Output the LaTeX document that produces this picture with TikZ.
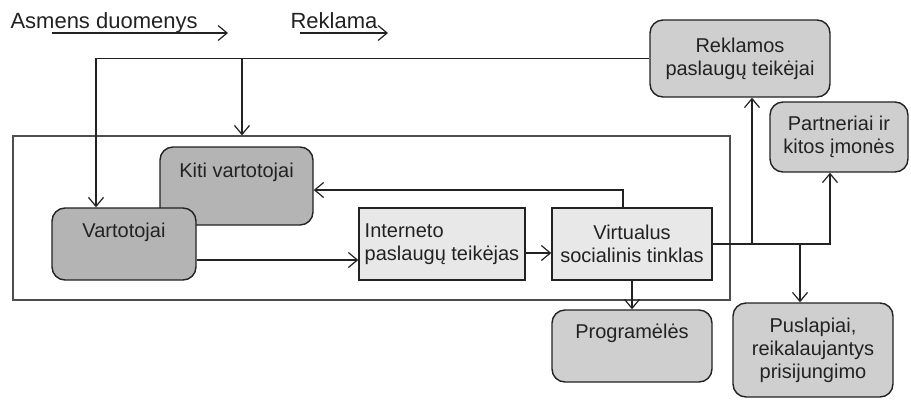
\documentclass[tikz,border=0pt]{standalone}
\usepackage{fontspec}
\setmainfont{Liberation Sans}
\usetikzlibrary{positioning,arrows.meta}

\definecolor{ink}{HTML}{222222}
\definecolor{dkgray}{HTML}{B4B4B4}
\definecolor{ltgray}{HTML}{CFCFCF}
\definecolor{pale}{HTML}{E8E8E8}

\begin{document}
\begin{tikzpicture}[
	x=1pt, y=-1pt
	,every node/.append style={font=\fontsize{20}{23}\selectfont, text=ink}
	,>={Straight Barb[length=9pt,width=15pt]}
	,c/.style={line width=1.2pt, draw=ink}
	,tag/.style={anchor=base west, font=\fontsize{22}{26}\selectfont}
	,area/.style={draw=ink!80, line width=1.3pt, minimum width=717pt, minimum height=164pt}
	,dk/.style={draw=ink, line width=1.4pt, rounded corners=13pt, fill=dkgray, align=center}
	,lt/.style={draw=ink, line width=1.4pt, rounded corners=13pt, fill=ltgray, align=center}
	,sq/.style={draw=ink, line width=1.4pt, fill=pale, minimum width=#1, minimum height=72pt}
	,toptext/.style={text height=14pt, text depth=#1}
]
	% outer frame
	\node [area] (sns) at (371.5,218) {};

	% top labels
	\node [tag] (asm) at (7,28) {Asmens duomenys};
	\node [tag] (rkl) at (287,28) {Reklama};
	\coordinate (asmL) at (52,33);
	\coordinate (asmR) at (228,33);
	\coordinate (rklL) at (300,33);
	\coordinate (rklR) at (388,33);

	% boxes
	\node [lt, minimum width=180pt, minimum height=77pt] (rek) at (740,58.5) {Reklamos\\paslaugų teikėjai};
	\node [lt, minimum width=138pt, minimum height=70pt] (par) at (839,137) {Partneriai ir\\kitos įmonės};
	\node [dk, toptext=32pt, minimum width=153pt, minimum height=78pt] (kiti) at (236.5,186) {Kiti vartotojai};
	\node [dk, toptext=28pt, minimum width=144pt, minimum height=72pt] (vart) at (124,244) {Vartotojai};
	\node [sq=166pt, align=left] (int) at (442,244) {Interneto\\paslaugų teikėjas};
	\node [sq=160pt, align=center] (virt) at (632,244) {Virtualus\\socialinis tinklas};
	\node [lt, toptext=30pt, minimum width=160pt, minimum height=72pt] (prog) at (632,346) {Programėlės};
	\node [lt, minimum width=160pt, minimum height=94pt] (pus) at (813,350) {Puslapiai,\\reikalaujantys\\prisijungimo};

	\coordinate (td) at (242,58.5);
	\coordinate (bu) at (752,0);
	\coordinate (bd) at (800,0);

	% connectors
	\draw [c, ->] (asmL) -- (asmR);
	\draw [c, ->] (rklL) -- (rklR);
	\draw [c, ->] (rek.west) -| ([xshift=-28pt]vart.north);
	\draw [c, ->] (td) -- (td |- sns.north);
	\draw [c, ->] ([yshift=-16pt]vart.east) -- ([yshift=-16pt]vart.east -| int.west);
	\draw [c, ->] ([yshift=-9pt]int.east) -- ([yshift=-9pt]int.east -| virt.west);
	\draw [c, ->] ([xshift=-9pt]virt.north) |- ([yshift=-4pt]kiti.east);
	\draw [c, ->] (virt.south) -- (prog.north);
	\draw [c, ->] (virt.east) -| ([xshift=-9pt]par.south);
	\draw [c, ->] (virt.east -| bu) -- (bu |- rek.south);
	\draw [c, ->] (virt.east -| bd) -- (bd |- pus.north);

	\useasboundingbox (0,0) rectangle (911,400);
\end{tikzpicture}
\end{document}
